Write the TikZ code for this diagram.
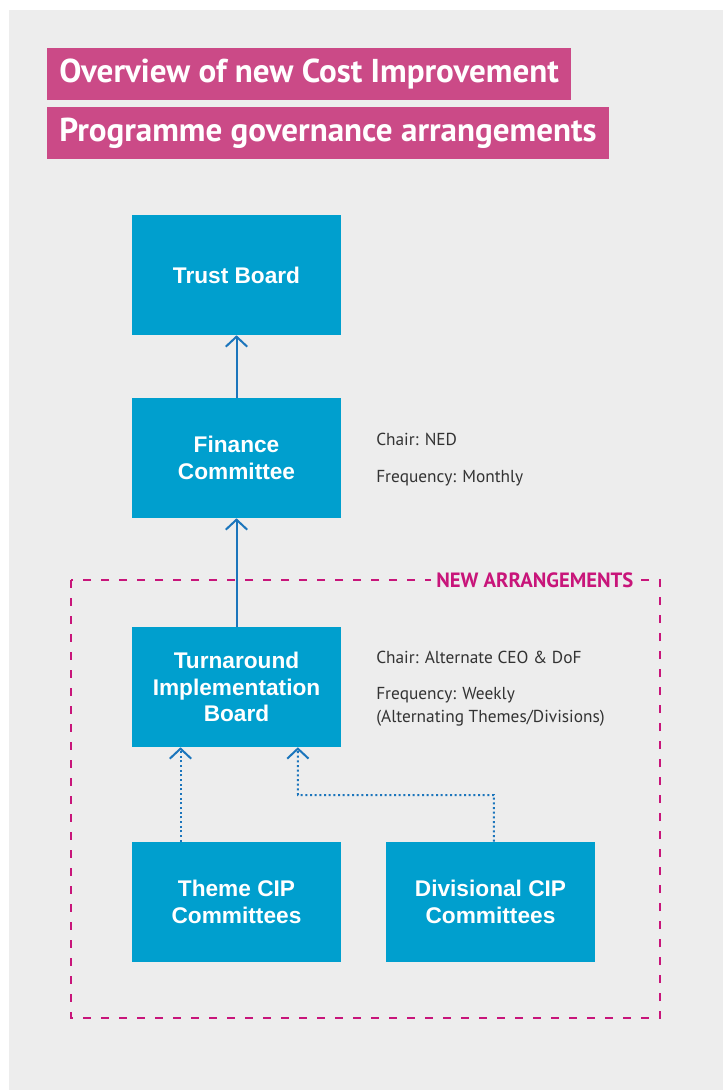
\documentclass[tikz,border=0pt]{standalone}
\usepackage{fontspec}
\setmainfont{Liberation Sans}
\newfontfamily\notefont{PT Sans}
\usetikzlibrary{positioning,arrows.meta}

\definecolor{panelgrey}{HTML}{EDEDED}
\definecolor{boxblue}{HTML}{009FCE}
\definecolor{linkblue}{HTML}{1B75BC}
\definecolor{titlepink}{HTML}{CB4A87}
\definecolor{framepink}{HTML}{C8157A}
\definecolor{notegrey}{HTML}{333333}

\tikzset{
    board/.style={rectangle, fill=boxblue, text=white, font=\bfseries\fontsize{17}{20}\selectfont,
        minimum width=156.75pt, minimum height=90pt, align=center, inner sep=0pt},
    headline/.style={rectangle, fill=titlepink, text=white, anchor=west,
        font=\notefont\bfseries\fontsize{24.8}{28}\selectfont, inner xsep=9pt, minimum height=39.5pt},
    note/.style={anchor=west, text=notegrey, font=\notefont\fontsize{13}{17.3}\selectfont, align=left, inner sep=0pt},
    report/.style={-{Straight Barb[length=7.5pt,width=16pt,line width=1.5pt]}, line width=1.5pt, linkblue},
    tie/.style={report, dash pattern=on 1.5pt off 2pt},
}

\begin{document}
\begin{tikzpicture}[x=0.75pt, y=-0.75pt]
    \useasboundingbox (0,0) rectangle (723,1090);
    \fill [panelgrey] (9,10) rectangle (723,1090);

    % Title
    \node [headline] (hd1) at (47,74) {Overview of new Cost Improvement};
    \node [headline] (hd2) at (47,133) {Programme governance arrangements};

    % Boards and committees
    \node [board] (trust) at (236.5,275) {Trust Board};
    \node [board] (fin) at (236.5,458) {Finance\\Committee};
    \node [board] (turn) at (236.5,687) {Turnaround\\Implementation\\Board};
    \node [board] (theme) at (236.5,902) {Theme CIP\\Committees};
    \node [board] (div) at (490.5,902) {Divisional CIP\\Committees};

    % Chair and frequency notes
    \node [note] (finchair) at (376,439) {Chair: NED};
    \node [note] (finfreq) at (376,478) {Frequency: Monthly};
    \node [note] (turnchair) at (376,657) {Chair: Alternate CEO \& DoF};
    \node [note] (turnfreq) at (376,707) {Frequency: Weekly\\(Alternating Themes/Divisions)};

    % New arrangements frame
    \draw [framepink, line width=1.5pt, dash pattern=on 6pt off 7.5pt] (71,580) rectangle (660,1018);
    \node [fill=panelgrey, text=framepink, anchor=east, inner xsep=4pt,
        font=\notefont\bfseries\fontsize{15.5}{18}\selectfont] (newarr) at (639,580) {NEW ARRANGEMENTS};

    % Reporting lines
    \draw [report] (fin) -- (trust);
    \draw [report] (turn) -- (fin);
    \coordinate (jn) at (298,795);
    \draw [tie] ([xshift=-42pt]theme.north) -- ([xshift=-42pt]turn.south);
    \draw [tie] ([xshift=2.6pt]div.north) |- (jn) -- ([xshift=46pt]turn.south);
\end{tikzpicture}
\end{document}
